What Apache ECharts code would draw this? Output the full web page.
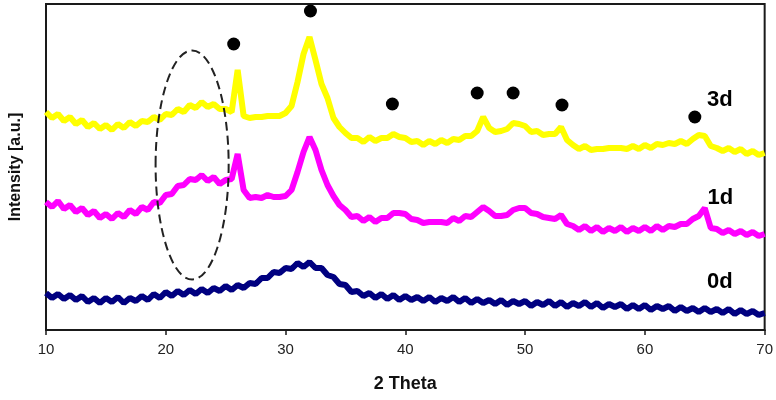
<!DOCTYPE html>
<html><head><meta charset="utf-8">
<script src="https://cdn.jsdelivr.net/npm/echarts@6/dist/echarts.min.js"></script>
<style>html,body{margin:0;padding:0;background:#fff}#c{width:776px;height:400px}</style>
</head><body><div id="c"></div>
<script>
const theta = [10,10.5,11,11.5,12,12.5,13,13.5,14,14.5,15,15.5,16,16.5,17,17.5,18,18.5,19,19.5,
20,20.5,21,21.5,22,22.5,23,23.5,24,24.5,25,25.5,26,26.5,27,27.5,28,28.5,29,29.5,
30,30.5,31,31.5,32,32.5,33,33.5,34,34.5,35,35.5,36,36.5,37,37.5,38,38.5,39,39.5,
40,40.5,41,41.5,42,42.5,43,43.5,44,44.5,45,45.5,46,46.5,47,47.5,48,48.5,49,49.5,
50,50.5,51,51.5,52,52.5,53,53.5,54,54.5,55,55.5,56,56.5,57,57.5,58,58.5,59,59.5,
60,60.5,61,61.5,62,62.5,63,63.5,64,64.5,65,65.5,66,66.5,67,67.5,68,68.5,69,69.5,70];

const d0 = [37,32,36,31,35,30,34,28,32,27,32,28,33,27,32,29,34,30,36,32,
38,34,39,35,40,36,41,37,42,39,44,40,45,42,47,46,52,52,58,57,
62,61,67,63,68,62,62,55,53,46,45,38,39,34,37,32,36,31,35,30,
34,30,33,29,33,28,32,29,33,28,32,27,31,27,30,26,30,25,29,26,
29,24,28,25,29,24,28,23,27,24,28,23,27,22,26,23,26,21,25,21,
25,20,24,21,24,19,23,19,22,18,22,18,21,17,21,16,20,16,19,15,17];

const d1 = [128,123,129,121,125,118,122,115,119,112,116,111,117,113,120,116,123,120,128,127,
135,136,144,145,151,150,155,149,153,146,150,151,176,140,132,133,132,135,133,133,
134,140,158,178,193,180,160,145,134,125,120,113,114,109,113,108,112,112,117,117,
116,111,110,107,108,108,108,107,112,109,114,113,118,123,119,114,114,115,120,122,
122,117,116,113,112,111,115,106,104,100,104,99,103,98,102,99,103,98,102,99,
103,99,104,100,104,103,106,106,111,114,122,102,101,97,100,96,99,95,98,94,96];

const d3 = [218,212,216,209,213,206,210,203,207,201,205,200,206,202,208,204,209,208,213,210,
216,215,221,218,225,222,228,223,226,221,221,218,260,214,212,213,213,214,214,214,
217,224,248,276,293,270,246,232,212,203,197,192,192,188,193,189,192,192,196,193,
192,188,189,185,189,186,190,187,191,190,194,194,199,213,202,198,199,201,207,206,
204,198,199,195,196,196,203,190,185,181,184,180,181,181,182,182,182,181,184,181,
185,182,186,185,187,186,189,186,191,195,194,184,182,179,182,178,181,176,179,175,177];

const peakDots = [[25.67,286],[32.08,319],[38.92,226],[46.0,237],[49.0,237],[53.08,225],[64.17,213]];
const sampleLabels = [['3d',66.25,230],['1d',66.3,132],['0d',66.25,48]];
const xTicks = [10,20,30,40,50,60,70];
const ellipseMark = [22.2,165,3.05,114.5];

const zip = (xs, ys) => xs.map((x,i)=>[x, ys[i]]);
const chart = echarts.init(document.getElementById('c'), null, {renderer:'canvas'});
const font = '"Liberation Sans", Arial, sans-serif';
chart.setOption({
  animation:false,
  backgroundColor:'#fff',
  grid:{left:45,right:11,top:4,bottom:70,show:true,borderColor:'#1a1a1a',borderWidth:2,backgroundColor:'transparent'},
  xAxis:{type:'value',min:xTicks[0],max:xTicks[xTicks.length-1],interval:10,
    name:'2 Theta',nameLocation:'middle',nameGap:45,
    nameTextStyle:{fontFamily:font,fontWeight:'bold',fontSize:18,color:'#111'},
    axisLine:{show:true,lineStyle:{color:'#1a1a1a',width:2}},
    axisTick:{show:true,inside:false,length:5,lineStyle:{color:'#1a1a1a',width:1.5}},
    axisLabel:{fontFamily:font,fontSize:15,color:'#222',margin:12},
    splitLine:{show:false}},
  yAxis:{type:'value',min:0,max:326,
    name:'Intensity [a.u.]',nameLocation:'middle',nameGap:22,nameRotate:90,
    nameTextStyle:{fontFamily:font,fontWeight:'bold',fontSize:16,color:'#111'},
    axisLine:{show:true,lineStyle:{color:'#1a1a1a',width:2}},
    axisTick:{show:false},axisLabel:{show:false},splitLine:{show:false}},
  series:[
    {name:'3d',type:'line',data:zip(theta,d3),symbol:'none',lineStyle:{color:'#FFFF00',width:6,join:'bevel'},itemStyle:{color:'#FFFF00'}},
    {name:'1d',type:'line',data:zip(theta,d1),symbol:'none',lineStyle:{color:'#FF00FF',width:6,join:'bevel'},itemStyle:{color:'#FF00FF'}},
    {name:'0d',type:'line',data:zip(theta,d0),symbol:'none',lineStyle:{color:'#000080',width:6,join:'bevel'},itemStyle:{color:'#000080'}},
    {type:'scatter',data:peakDots,symbol:'circle',symbolSize:13,itemStyle:{color:'#000',opacity:1},z:5},
    {type:'scatter',data:sampleLabels.map(l=>({value:[l[1],l[2]],name:l[0]})),symbolSize:0,itemStyle:{opacity:1},
      label:{show:true,position:'inside',formatter:p=>p.name,fontFamily:font,fontWeight:'bold',fontSize:22,color:'#000',opacity:1},z:6},
    {type:'custom',data:[ellipseMark],z:7,renderItem:(params,api)=>{
      const c = api.coord([api.value(0),api.value(1)]);
      const s = api.size([api.value(2),api.value(3)]);
      return {type:'ellipse',shape:{cx:c[0],cy:c[1],rx:s[0],ry:s[1]},
        style:{fill:null,stroke:'#222',lineWidth:2,lineDash:[9,5]}};
    }}
  ]
});
</script></body></html>
